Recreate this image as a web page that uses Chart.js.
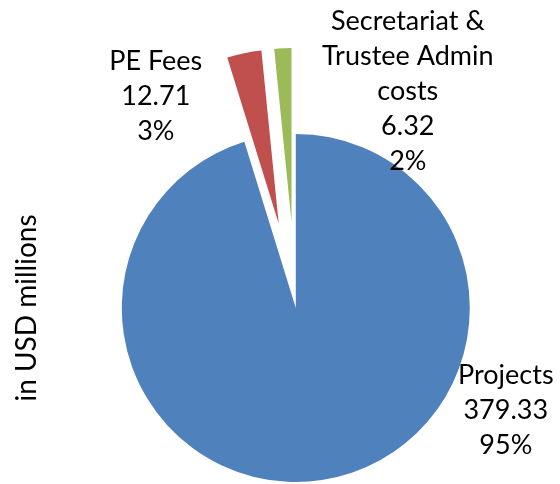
<!DOCTYPE html>
<html>
<head>
<meta charset="utf-8">
<script src="https://cdn.jsdelivr.net/npm/chart.js@4/dist/chart.umd.min.js"></script>
<style>
  html, body { margin: 0; padding: 0; background: #fff; }
  #wrap { width: 560px; height: 484px; position: relative; }
</style>
</head>
<body>
<div id="wrap"><canvas id="piechart"></canvas></div>
<script>
// data
var categories = [
    ['Projects'],
    ['PE Fees'],
    ['Secretariat &', 'Trustee Admin', 'costs']
];
var amounts = [379.33, 12.71, 6.32];

// look
var sliceColors = ['#4F81BD', '#C0504D', '#9BBB59'];
var explode = [0, 86, 86];                         // px pulled out from centre
var labelOffset = [[210, 102], [-140, -212], [112, -217]]; // label block centre vs pie centre
var labelFont = '27px Lato';
var labelLineHeight = 35;

var explodePlugin = {
    id: 'explode',
    afterDatasetsUpdate: function (chart) {
        var arcs = chart.getDatasetMeta(0).data;
        arcs.forEach(function (arc, i) {
            var d = explode[i] || 0;
            if (!d) return;
            var mid = (arc.startAngle + arc.endAngle) / 2;
            arc.x += Math.cos(mid) * d;
            arc.y += Math.sin(mid) * d;
        });
    }
};

var labelPlugin = {
    id: 'sliceLabels',
    afterDatasetsDraw: function (chart) {
        var ctx = chart.ctx;
        var area = chart.chartArea;
        var cx = (area.left + area.right) / 2;
        var cy = (area.top + area.bottom) / 2;
        var total = amounts.reduce(function (a, b) { return a + b; }, 0);
        ctx.save();
        ctx.font = labelFont;
        ctx.fillStyle = '#000';
        ctx.textAlign = 'center';
        ctx.textBaseline = 'middle';
        amounts.forEach(function (v, i) {
            var lines = categories[i].concat([v.toFixed(2), Math.round(v / total * 100) + '%']);
            var x = cx + labelOffset[i][0];
            var y0 = cy + labelOffset[i][1] - (lines.length - 1) * labelLineHeight / 2;
            lines.forEach(function (t, k) {
                ctx.fillText(t, x, y0 + k * labelLineHeight);
            });
        });
        ctx.restore();
    }
};

var config = {
    type: 'pie',
    data: {
        labels: categories,
        datasets: [{
            data: amounts,
            backgroundColor: sliceColors,
            borderWidth: 0,
            radius: 174,
            clip: false
        }]
    },
    options: {
        responsive: true,
        maintainAspectRatio: false,
        animation: false,
        events: [],
        layout: {
            padding: { left: 0, right: 22, top: 132, bottom: 0 }
        },
        plugins: {
            legend: { display: false },
            tooltip: { enabled: false },
            title: {
                display: true,
                position: 'left',
                text: 'in USD millions',
                color: '#000',
                font: { family: 'Lato', size: 28, weight: 'normal' },
                padding: 10
            }
        }
    },
    plugins: [explodePlugin, labelPlugin]
};

window.onload = function () {
    var ctx = document.getElementById('piechart').getContext('2d');
    window.myPie = new Chart(ctx, config);
};
</script>
</body>
</html>
